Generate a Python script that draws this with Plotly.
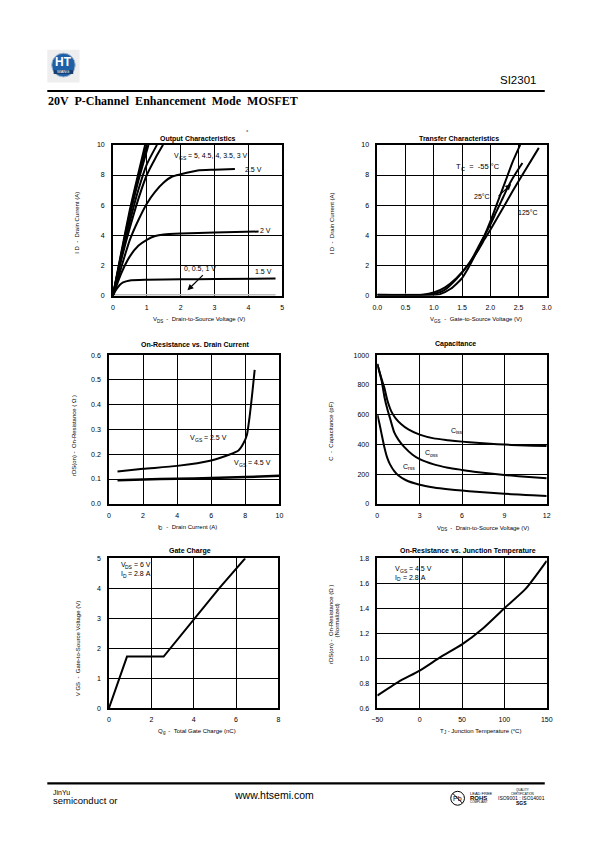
import plotly.graph_objects as go

# page is 595x842; the HTML body adds an 8px margin, so the figure is 16px smaller
PAGE_W, PAGE_H = 595, 842
OFF = 8
W, H = PAGE_W - 2 * OFF, PAGE_H - 2 * OFF
FONT = "Liberation Sans, Arial, sans-serif"

# ---------------- data ----------------
# Output characteristics (VDS, ID)
out_vgs5_vds = [0, 0.25, 0.5, 0.75, 0.95]
out_vgs5_id = [0, 2.9, 5.7, 8.1, 10]
out_vgs45_vds = [0, 0.25, 0.5, 0.75, 1.0]
out_vgs45_id = [0, 2.8, 5.5, 7.9, 10]
out_vgs4_vds = [0, 0.25, 0.5, 0.75, 1.05]
out_vgs4_id = [0, 2.7, 5.3, 7.6, 10]
out_vgs35_vds = [0, 0.25, 0.5, 0.75, 1.0, 1.3]
out_vgs35_id = [0, 2.55, 4.9, 7.0, 8.7, 10]
out_vgs3_vds = [0, 0.25, 0.5, 0.75, 1.0, 1.25, 1.48]
out_vgs3_id = [0, 2.4, 4.5, 6.4, 8.0, 9.1, 10]
out_vgs25_vds = [0, 0.25, 0.5, 0.75, 1.0, 1.25, 1.5, 1.75, 2.0, 2.5, 3.0, 3.6]
out_vgs25_id = [0, 1.9, 3.7, 5.0, 6.1, 6.9, 7.5, 7.9, 8.05, 8.3, 8.35, 8.4]
out_vgs2_vds = [0, 0.25, 0.5, 0.75, 1.0, 1.25, 1.5, 2.0, 3.0, 4.3]
out_vgs2_id = [0, 1.5, 2.6, 3.3, 3.7, 3.95, 4.05, 4.12, 4.18, 4.25]
out_vgs15_vds = [0, 0.1, 0.2, 0.3, 0.5, 1.0, 2.0, 3.0, 4.8]
out_vgs15_id = [0, 0.4, 0.7, 0.87, 1.0, 1.05, 1.08, 1.1, 1.13]
out_vgs0_vds = [0, 4.8]
out_vgs0_id = [0, 0]

# Transfer characteristics (VGS, ID)
tr_m55_vgs = [0, 0.9, 1.1, 1.3, 1.5, 1.6, 1.7, 1.8, 1.9, 2.0, 2.1, 2.2, 2.3, 2.4, 2.53]
tr_m55_id = [0, 0, 0.08, 0.45, 1.15, 1.75, 2.45, 3.2, 4.0, 4.9, 5.9, 6.9, 7.9, 8.9, 10]
tr_25_vgs = [0, 0.9, 1.0, 1.2, 1.4, 1.6, 1.7, 1.8, 1.9, 2.0, 2.1, 2.2, 2.3, 2.4, 2.5, 2.57]
tr_25_id = [0.03, 0.04, 0.1, 0.4, 1.1, 2.0, 2.6, 3.3, 4.0, 4.7, 5.5, 6.3, 7.1, 7.8, 8.4, 8.8]
tr_125_vgs = [0, 0.8, 1.0, 1.2, 1.4, 1.6, 1.8, 1.9, 2.0, 2.2, 2.4, 2.6, 2.86]
tr_125_id = [0.05, 0.06, 0.2, 0.55, 1.15, 2.0, 3.1, 3.75, 4.35, 5.65, 6.95, 8.2, 9.8]

# On-resistance vs drain current
ron_id_25 = [0.5, 2, 4, 6, 7, 7.6, 7.9, 8.1, 8.25, 8.4, 8.55]
ron_r_25 = [0.13, 0.141, 0.153, 0.175, 0.197, 0.215, 0.245, 0.28, 0.35, 0.44, 0.54]
ron_id_45 = [0.5, 2, 4, 6, 8, 10]
ron_r_45 = [0.095, 0.098, 0.101, 0.104, 0.108, 0.113]

# Capacitance
cap_vds_iss = [0, 0.3, 0.5, 0.7, 1.0, 1.3, 1.7, 2.2, 3, 4, 5, 6, 7, 8, 9, 10, 11, 12]
cap_iss = [940, 840, 780, 700, 620, 575, 535, 500, 465, 440, 428, 418, 410, 404, 398, 394, 391, 388]
cap_vds_oss = [0, 0.3, 0.5, 0.7, 0.9, 1.2, 1.5, 1.9, 2.5, 3, 4, 5, 6, 7, 8, 9, 10, 11, 12]
cap_oss = [940, 830, 720, 640, 575, 480, 430, 383, 330, 300, 265, 243, 228, 214, 203, 194, 185, 178, 172]
cap_vds_rss = [0, 0.15, 0.3, 0.5, 0.7, 0.9, 1.2, 1.5, 2, 3, 4, 5, 6, 7, 8, 9, 10, 11, 12]
cap_rss = [600, 540, 470, 380, 310, 265, 220, 190, 160, 128, 110, 98, 89, 81, 75, 68, 62, 57, 52]

# Gate charge
gc_qg = [0, 0.85, 2.58, 4.0, 5.2, 6.43]
gc_vgs = [0, 1.72, 1.72, 2.95, 4.0, 5.0]

# On-resistance vs junction temperature
tj_temp = [-50, -25, 0, 25, 50, 75, 100, 125, 150]
tj_rnorm = [0.70, 0.81, 0.90, 1.01, 1.11, 1.24, 1.40, 1.555, 1.78]

# axis tick settings
ax_ranges = {
    1: ([0, 5], 1, [0, 10], 2, "", ""),
    2: ([0, 3], 0.5, [0, 10], 2, ".1f", ""),
    3: ([0, 10], 2, [0, 0.6], 0.1, "", ".1f"),
    4: ([0, 12], 3, [0, 1000], 200, "", ""),
    5: ([0, 8], 2, [0, 5], 1, "", ""),
    6: ([-50, 150], 50, [0.6, 1.8], 0.2, "", ".1f"),
}

# plot areas in page pixels: (left, right, top, bottom)
areas = {
    1: (109, 282, 142, 294),
    2: (379, 552, 142, 294),
    3: (105, 279, 354, 504),
    4: (379, 552, 354, 504),
    5: (105, 278, 559, 710),
    6: (379, 552, 559, 710),
}


def px(x):
    return (x - OFF) / W


def py(y):
    return 1 - (y - OFF) / H


fig = go.Figure()


def add_line(k, xs, ys, color="black", width=2, shape="spline"):
    xa = "x" if k == 1 else f"x{k}"
    ya = "y" if k == 1 else f"y{k}"
    fig.add_trace(go.Scatter(x=xs, y=ys, mode="lines", xaxis=xa, yaxis=ya,
                             line=dict(color=color, width=width, shape=shape, smoothing=0.6),
                             showlegend=False, hoverinfo="skip", cliponaxis=True))


# chart 1
add_line(1, out_vgs0_vds, out_vgs0_id, color="#bdbdbd", width=3, shape="linear")
for xs, ys in [(out_vgs5_vds, out_vgs5_id), (out_vgs45_vds, out_vgs45_id),
               (out_vgs4_vds, out_vgs4_id), (out_vgs35_vds, out_vgs35_id),
               (out_vgs3_vds, out_vgs3_id), (out_vgs25_vds, out_vgs25_id),
               (out_vgs2_vds, out_vgs2_id), (out_vgs15_vds, out_vgs15_id)]:
    add_line(1, xs, ys)
# chart 2
add_line(2, [0, 1.0], [0.03, 0.03], color="#c8c8c8", width=3, shape="linear")
add_line(2, tr_m55_vgs, tr_m55_id)
add_line(2, tr_25_vgs, tr_25_id)
add_line(2, tr_125_vgs, tr_125_id)
# chart 3
add_line(3, ron_id_25, ron_r_25)
add_line(3, ron_id_45, ron_r_45, width=2.5)
# chart 4
add_line(4, cap_vds_iss, cap_iss)
add_line(4, cap_vds_oss, cap_oss)
add_line(4, cap_vds_rss, cap_rss)
# chart 5
add_line(5, gc_qg, gc_vgs, shape="linear")
# chart 6
add_line(6, tj_temp, tj_rnorm)

layout = dict(
    width=W, height=H, margin=dict(l=0, r=0, t=0, b=0, pad=0),
    paper_bgcolor="white", plot_bgcolor="white", showlegend=False,
    font=dict(family=FONT, color="black", size=7),
)
for k, (l, r, t, b) in areas.items():
    xr, dx, yr, dy, xf, yf = ax_ranges[k]
    xn = "xaxis" if k == 1 else f"xaxis{k}"
    yn = "yaxis" if k == 1 else f"yaxis{k}"
    anc_x = "y" if k == 1 else f"y{k}"
    anc_y = "x" if k == 1 else f"x{k}"
    common = dict(showgrid=True, gridcolor="black", gridwidth=1.2, showline=True,
                  linecolor="black", linewidth=1.6, mirror=True, zeroline=False,
                  ticks="", tickfont=dict(family=FONT, size=7, color="black"),
                  fixedrange=True)
    layout[xn] = dict(domain=[px(l), px(r)], range=xr, dtick=dx, tick0=xr[0],
                      anchor=anc_x, tickformat=xf, ticklabelstandoff=4, **common)
    layout[yn] = dict(domain=[py(b), py(t)], range=yr, dtick=dy, tick0=yr[0],
                      anchor=anc_y, tickformat=yf, ticklabelstandoff=5, **common)
fig.update_layout(**layout)

ann = []

# Arial / Liberation Sans advance widths (1/1000 em) for laying out subscripts
AW = {" ": 278, "\u00a0": 278, "-": 333, ".": 278, ",": 278, "=": 584, "(": 333, ")": 333,
      "°": 400, "A": 667, "C": 722, "D": 722, "G": 778, "I": 278, "J": 500, "Q": 778,
      "S": 667, "T": 611, "V": 667, "a": 556, "b": 556, "c": 500, "d": 556, "e": 556,
      "f": 278, "g": 556, "h": 556, "i": 222, "l": 222, "m": 833, "n": 556, "o": 556,
      "p": 556, "r": 333, "s": 500, "t": 278, "u": 556, "v": 500}
for _d in "0123456789":
    AW[_d] = 556


def text_w(s, size):
    return sum(AW.get(ch, 556) for ch in s) * size / 1000.0


def rich(xref, yref, x, y, parts, size=7, anchor="left"):
    """parts: list of (text, is_subscript); each piece is its own annotation."""
    sizes = [round(size * 0.72 * 2) / 2 if sub else size for _, sub in parts]
    widths = [text_w(t, s) for (t, _), s in zip(parts, sizes)]
    cur = 0.0 if anchor == "left" else -sum(widths) / 2.0
    for (t, sub), s, w in zip(parts, sizes, widths):
        ann.append(dict(x=x, y=y, xref=xref, yref=yref, text=t.replace(" ", "\u00a0"),
                        showarrow=False, xanchor="left", yanchor="middle",
                        xshift=cur, yshift=(-0.32 * size if sub else 0),
                        borderpad=0, borderwidth=0,
                        font=dict(size=s, family=FONT, color="black")))
        cur += w


def note(x, y, text, size=7, bold=False, angle=0, xanchor="center", family=FONT,
         color="black"):
    if bold:
        text = f"<b>{text}</b>"
    ann.append(dict(x=px(x), y=py(y), xref="paper", yref="paper", text=text,
                    showarrow=False, xanchor=xanchor, yanchor="middle",
                    textangle=angle, font=dict(size=size, family=family, color=color)))


def pnote(x, y, parts, size=6, anchor="center"):
    rich("paper", "paper", px(x), py(y), parts, size=size, anchor=anchor)


def dnote(k, x, y, parts, size=7):
    xa = "x" if k == 1 else f"x{k}"
    ya = "y" if k == 1 else f"y{k}"
    if isinstance(parts, str):
        parts = [(parts, False)]
    rich(xa, ya, x, y, parts, size=size, anchor="left")


# chart titles
note(196, 136, "Output Characteristics", size=7, bold=True)
note(246, 129, "°", size=6)
note(462, 136, "Transfer Characteristics", size=7, bold=True)
note(193, 343, "On-Resistance vs. Drain Current", size=7, bold=True)
note(459, 343, "Capacitance", size=7, bold=True)
note(188, 552, "Gate Charge", size=7, bold=True)
note(472, 552, "On-Resistance vs. Junction Temperature", size=7, bold=True)

# axis titles
pnote(197, 318, [("V", False), ("DS", True), ("  -  Drain-to-Source Voltage (V)", False)])
pnote(480, 318, [("V", False), ("GS", True), ("  -  Gate-to-Source Voltage (V)", False)])
pnote(185, 527, [("I", False), ("D", True), ("  -  Drain Current (A)", False)])
pnote(487, 528, [("V", False), ("DS", True), ("  -  Drain-to-Source Voltage (V)", False)])
pnote(195, 733, [("Q", False), ("g", True), ("  -  Total Gate Charge (nC)", False)])
pnote(485, 733, [("T", False), ("J", True), (" - Junction Temperature (°C)", False)])

note(73, 221, "I D  -  Drain Current (A)", size=6, angle=-90)
note(333, 221, "I D  -  Drain Current (A)", size=6, angle=-90)
note(70, 435, "rDS(on) -  On-Resistance ( Ω )", size=6, angle=-90)
note(332, 431, "C  -  Capacitance (pF)", size=6, angle=-90)
note(73, 650, "V GS  -  Gate-to-Source Voltage (V)", size=6, angle=-90)
note(331, 625, "rDS(on) -  On-Resistance (Ω )", size=6, angle=-90)
note(337.5, 622, "(Normalized)", size=6, angle=-90)

# chart 1 labels
dnote(1, 1.8, 9.3, [("V", False), ("GS", True), (" = 5, 4.5, 4, 3.5, 3 V", False)])
dnote(1, 3.9, 8.35, "2.5 V")
dnote(1, 4.35, 4.35, "2 V")
dnote(1, 4.2, 1.6, "1.5 V")
dnote(1, 2.1, 1.8, "0, 0.5, 1 V")
ann.append(dict(x=2.2, y=0.35, xref="x", yref="y", ax=2.7, ay=1.45, axref="x", ayref="y",
                showarrow=True, arrowhead=2, arrowsize=1, arrowwidth=1.2,
                arrowcolor="black", text=""))
# chart 2 labels
dnote(2, 1.4, 8.55, [("T", False), ("C", True), ("  =  -55 °C", False)], size=7.5)
dnote(2, 1.72, 6.55, "25°C")
dnote(2, 2.5, 5.5, "125°C")
ann.append(dict(x=2.37, y=7.4, xref="x2", yref="y2", ax=2.12, ay=6.5, axref="x2", ayref="y2",
                showarrow=True, arrowhead=2, arrowsize=1, arrowwidth=1.2,
                arrowcolor="black", text=""))
# chart 3 labels
dnote(3, 4.75, 0.268, [("V", False), ("GS", True), (" = 2.5 V", False)])
dnote(3, 7.35, 0.165, [("V", False), ("GS", True), (" = 4.5 V", False)])
# chart 4 labels
dnote(4, 5.25, 495, [("C", False), ("iss", True)])
dnote(4, 3.4, 345, [("C", False), ("oss", True)])
dnote(4, 1.8, 253, [("C", False), ("rss", True)])
# chart 5 labels
dnote(5, 0.55, 4.78, [("V", False), ("DS", True), (" = 6 V", False)])
dnote(5, 0.55, 4.5, [("I", False), ("D", True), (" = 2.8 A", False)])
# chart 6 labels
dnote(6, -29, 1.72, [("V", False), ("GS", True), (" = 4.5 V", False)])
dnote(6, -29, 1.65, [("I", False), ("D", True), (" = 2.8 A", False)])

# ---- header ----
note(523, 77, "SI2301", size=11.5, family="Liberation Sans, Arial")
note(41, 97.5, "20V  P-Channel  Enhancement  Mode  MOSFET", size=12, bold=True,
     xanchor="left", family="Liberation Serif, Times New Roman, serif")
# logo text
note(58.5, 58.5, "HT", size=12, bold=True, color="white", family="Liberation Sans, Arial")
note(58.5, 68.5, "WANG", size=4, color="white", family="Liberation Sans, Arial")

# ---- footer ----
note(46, 795.5, "JinYu", size=7, xanchor="left")
note(46, 803, "semiconduct or", size=9.5, xanchor="left")
note(273, 798, "www.htsemi.com", size=10.5)
note(461, 801, "Pb", size=7)
note(472, 796, "LEAD FREE", size=4, xanchor="left")
note(472, 800.5, "<b>ROHS</b>", size=6, xanchor="left")
note(472, 805, "COMPLIANT", size=3, xanchor="left")
note(527, 793, "QUALITY", size=3)
note(527, 796.5, "CERTIFICATION", size=3)
note(526, 801, "ISO9001 : ISO14001", size=5)
note(526, 806, "<b>SGS</b>", size=5)

fig.update_layout(annotations=ann)

shapes = [
    # header line
    dict(type="line", xref="paper", yref="paper", x0=px(42), x1=px(550), y0=py(87.7), y1=py(87.7),
         line=dict(color="black", width=2.2)),
    # footer line
    dict(type="line", xref="paper", yref="paper", x0=px(42), x1=px(550), y0=py(786), y1=py(786),
         line=dict(color="black", width=2.2)),
    # logo background
    dict(type="rect", xref="paper", yref="paper", x0=px(42), x1=px(75), y0=py(79), y1=py(46),
         fillcolor="#eeeeee", line=dict(width=0), layer="below"),
    dict(type="circle", xref="paper", yref="paper", x0=px(46.5), x1=px(70.5), y0=py(73.5), y1=py(49.5),
         fillcolor="#1f5fa6", line=dict(color="#9fb6d0", width=1)),
    dict(type="rect", xref="paper", yref="paper", x0=px(48.5), x1=px(68.5), y0=py(70.5), y1=py(66.5),
         fillcolor="#163f70", line=dict(width=0)),
    # Pb-free circle
    dict(type="circle", xref="paper", yref="paper", x0=px(454), x1=px(468), y0=py(808), y1=py(794),
         line=dict(color="black", width=1)),
    dict(type="line", xref="paper", yref="paper", x0=px(456), x1=px(466), y0=py(796), y1=py(806),
         line=dict(color="black", width=1)),
]
fig.update_layout(shapes=shapes)

fig.write_html("out.html", include_plotlyjs=True, config={"displayModeBar": False})
